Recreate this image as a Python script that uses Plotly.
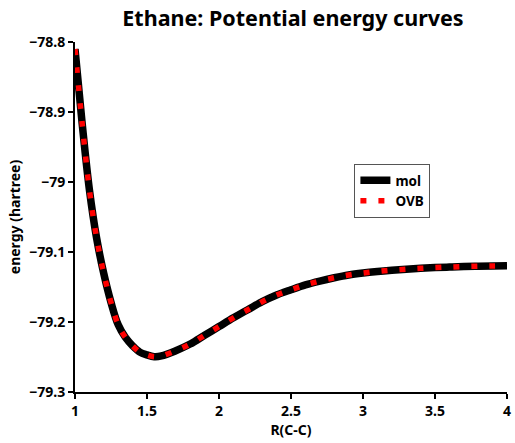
import plotly.graph_objects as go

# C-C bond length (angstrom) and total energies (hartree)
r_cc = [1.0, 1.05, 1.1, 1.15, 1.2, 1.25, 1.3, 1.35, 1.4, 1.45, 1.5, 1.55, 1.6,
        1.7, 1.8, 1.9, 2.0, 2.1, 2.2, 2.3, 2.4, 2.5, 2.6, 2.7, 2.8, 2.9, 3.0,
        3.1, 3.2, 3.3, 3.4, 3.5, 3.6, 3.7, 3.8, 3.9, 4.0]
mol_energy = [-78.810, -78.917, -79.011, -79.080, -79.131, -79.172, -79.204,
              -79.222, -79.234, -79.243, -79.247, -79.2495, -79.2485, -79.241,
              -79.2315, -79.219, -79.2065, -79.194, -79.1825, -79.171, -79.1615,
              -79.154, -79.147, -79.1415, -79.1368, -79.1328, -79.130, -79.1278,
              -79.126, -79.1245, -79.1233, -79.1223, -79.1215, -79.1208,
              -79.1203, -79.1199, -79.1196]
ovb_energy = [-78.810, -78.917, -79.011, -79.080, -79.131, -79.172, -79.204,
              -79.222, -79.234, -79.243, -79.247, -79.2495, -79.2485, -79.241,
              -79.2315, -79.219, -79.2065, -79.194, -79.1825, -79.171, -79.1615,
              -79.154, -79.147, -79.1415, -79.1368, -79.1328, -79.130, -79.1278,
              -79.126, -79.1245, -79.1233, -79.1223, -79.1215, -79.1208,
              -79.1203, -79.1199, -79.1196]

x_ticks = [1, 1.5, 2, 2.5, 3, 3.5, 4]
x_labels = ["1", "1.5", "2", "2.5", "3", "3.5", "4"]
y_ticks = [-79.3, -79.2, -79.1, -79.0, -78.9, -78.8]
y_labels = ["\u221279.3", "\u221279.2", "\u221279.1", "\u221279", "\u221278.9", "\u221278.8"]

FONT = "Noto Sans"


def bold(s):
    return "<b>" + s + "</b>"


fig = go.Figure()
fig.add_trace(go.Scatter(
    x=r_cc, y=mol_energy, name=bold("mol"), mode="lines",
    line=dict(color="black", width=7.5, shape="spline"),
))
fig.add_trace(go.Scatter(
    x=r_cc, y=ovb_energy, name=bold("OVB"), mode="lines",
    line=dict(color="red", width=5.5, dash="6px,12px", shape="spline"),
))

axis_common = dict(
    showline=True, linecolor="black", linewidth=2,
    ticks="outside", ticklen=5, tickwidth=2, tickcolor="black",
    showgrid=False, zeroline=False, mirror=False,
    ticklabeloverflow="allow",
    tickfont=dict(family=FONT, size=14, color="black", weight="bold"),
)

fig.update_layout(
    width=515, height=443,
    margin=dict(l=75, r=4, t=42, b=51),
    paper_bgcolor="white", plot_bgcolor="white",
    title=dict(
        text=bold("Ethane: Potential energy curves"),
        font=dict(family=FONT, size=21.5, color="black"),
        x=(75 + 511) / 2 / 515, xanchor="center", y=1 - 18 / 443, yanchor="middle",
    ),
    xaxis=dict(
        range=[1, 4], tickvals=x_ticks, ticktext=[bold(t) for t in x_labels],
        title=dict(text=bold("R(C-C)"), font=dict(family=FONT, size=14, color="black"),
                   standoff=5),
        **axis_common,
    ),
    yaxis=dict(
        range=[-79.3, -78.8], tickvals=y_ticks, ticktext=[bold(t) for t in y_labels],
        title=dict(text=bold("energy (hartree)"), font=dict(family=FONT, size=14, color="black"),
                   standoff=5),
        **axis_common,
    ),
    legend=dict(
        x=(357 - 75) / 436, y=(392 - 164) / 350, xanchor="left", yanchor="top",
        bgcolor="white", bordercolor="#555555", borderwidth=1,
        font=dict(family=FONT, size=13.5, color="black"),
        tracegroupgap=0,
    ),
    showlegend=True,
)

fig.write_html("out.html")
